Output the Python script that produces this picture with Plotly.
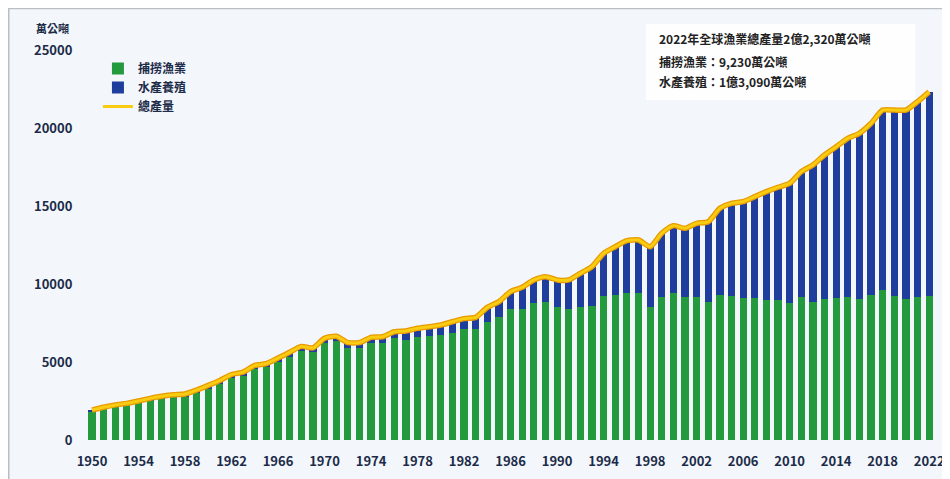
import plotly.graph_objects as go

years = list(range(1950, 2023))
capture = [1820, 1990, 2130, 2220, 2360, 2520, 2640, 2730, 2770, 3010,
           3300, 3610, 3980, 4120, 4540, 4650, 4990, 5350, 5720, 5610,
           6220, 6340, 5920, 5910, 6200, 6200, 6520, 6410, 6620, 6670,
           6730, 6880, 7100, 7100, 7580, 7860, 8380, 8400, 8800, 8870,
           8500, 8380, 8550, 8590, 9230, 9270, 9400, 9400, 8550, 9190,
           9400, 9150, 9150, 8870, 9270, 9230, 9080, 9080, 8970, 8970,
           8760, 9150, 8870, 9020, 9080, 9150, 9020, 9290, 9620, 9230,
           9020, 9150, 9230]
aquaculture = [100, 110, 120, 130, 140, 150, 160, 170, 180, 190,
               200, 210, 220, 230, 240, 250, 260, 270, 280, 290,
               300, 310, 320, 330, 380, 420, 420, 580, 540, 590,
               640, 700, 680, 760, 920, 1010, 1130, 1390, 1460, 1600,
               1760, 1880, 2130, 2520, 2740, 3120, 3380, 3420, 3840, 4060,
               4340, 4420, 4740, 5120, 5580, 5940, 6200, 6520, 6950, 7230,
               7690, 8050, 8760, 9250, 9720, 10190, 10640, 11010, 11530, 11920,
               12130, 12540, 13090]
total = [c + a for c, a in zip(capture, aquaculture)]

x_ticks = list(range(1950, 2023, 4))
y_ticks = [0, 5000, 10000, 15000, 20000, 25000]

FONT = "Noto Sans CJK TC"
TXT = "#1c2b48"

fig = go.Figure()
fig.add_trace(go.Bar(x=years, y=capture, name="捕撈漁業", marker_color="#229a3d",
                     marker_line_width=0, width=0.62))
fig.add_trace(go.Bar(x=years, y=aquaculture, name="水產養殖", marker_color="#1e3d9c",
                     marker_line_width=0, width=0.62))
fig.add_trace(go.Scatter(x=years, y=total, mode="lines", showlegend=False,
                         line=dict(color="#e89a00", width=5.5, shape="spline", smoothing=0.6),
                         hoverinfo="skip"))
fig.add_trace(go.Scatter(x=years, y=total, mode="lines", name="總產量",
                         line=dict(color="#f9cc12", width=3, shape="spline", smoothing=0.6)))

OFF = 8  # page body margin
W, H = 950 - OFF, 479 - OFF
ml, mr, mt, mb = 72, 5, 42, 39
pw, ph = W - ml - mr, H - mt - mb

def px(xs):
    return (xs - OFF - ml) / pw

def py(ys):
    return (H - mb - (ys - OFF)) / ph

fig.update_layout(
    width=W, height=H,
    margin=dict(l=ml, r=mr, t=mt, b=mb),
    barmode="stack",
    bargap=0.38,
    paper_bgcolor="#f3f7fb",
    plot_bgcolor="rgba(0,0,0,0)",
    font=dict(family=FONT, color=TXT, size=13),
    xaxis=dict(range=[1948.97, 2023.1], tickmode="array", tickvals=x_ticks,
               ticktext=[str(v) for v in x_ticks], showgrid=False, zeroline=False,
               showline=False, ticks="outside", ticklen=9, tickcolor="rgba(0,0,0,0)",
               tickfont=dict(size=13, color=TXT, family=FONT, weight="bold")),
    yaxis=dict(range=[0, 25000], tickmode="array", tickvals=y_ticks,
               ticktext=[str(v) for v in y_ticks], showgrid=False, zeroline=False,
               showline=False, ticks="outside", ticklen=4, tickcolor="rgba(0,0,0,0)",
               tickfont=dict(size=13, color=TXT, family=FONT, weight="bold")),
    legend=dict(x=px(98), y=py(54), xanchor="left", yanchor="top",
                bgcolor="rgba(0,0,0,0)", traceorder="normal",
                font=dict(size=12, color=TXT, family=FONT, weight="bold"),
                itemwidth=30, tracegroupgap=2),
    showlegend=True,
)

# frame along the top and left edges
fig.add_shape(type="line", xref="paper", yref="paper",
              x0=px(8), x1=px(952), y0=py(8.5), y1=py(8.5),
              line=dict(color="#b9bec4", width=1.5))
fig.add_shape(type="line", xref="paper", yref="paper",
              x0=px(8.5), x1=px(8.5), y0=py(8), y1=py(482),
              line=dict(color="#b9bec4", width=1.5))

# white info box
fig.add_shape(type="rect", xref="paper", yref="paper",
              x0=px(648), x1=px(918), y0=py(100), y1=py(24),
              fillcolor="rgba(255,255,255,0.85)", line=dict(width=0), layer="below")

fig.add_annotation(xref="paper", yref="paper", x=px(34), y=py(28), xanchor="left",
                   yanchor="middle", showarrow=False, text="萬公噸",
                   font=dict(size=11, color=TXT, family=FONT, weight="bold"))

info = ["2022年全球漁業總產量2億2,320萬公噸", "捕撈漁業：9,230萬公噸", "水產養殖：1億3,090萬公噸"]
for txt, yy in zip(info, [38, 61, 81]):
    fig.add_annotation(xref="paper", yref="paper", x=px(659), y=py(yy), xanchor="left",
                       yanchor="middle", showarrow=False, text=txt,
                       font=dict(size=12, color="#222222", family=FONT, weight="bold"))

fig.write_html("out.html")
